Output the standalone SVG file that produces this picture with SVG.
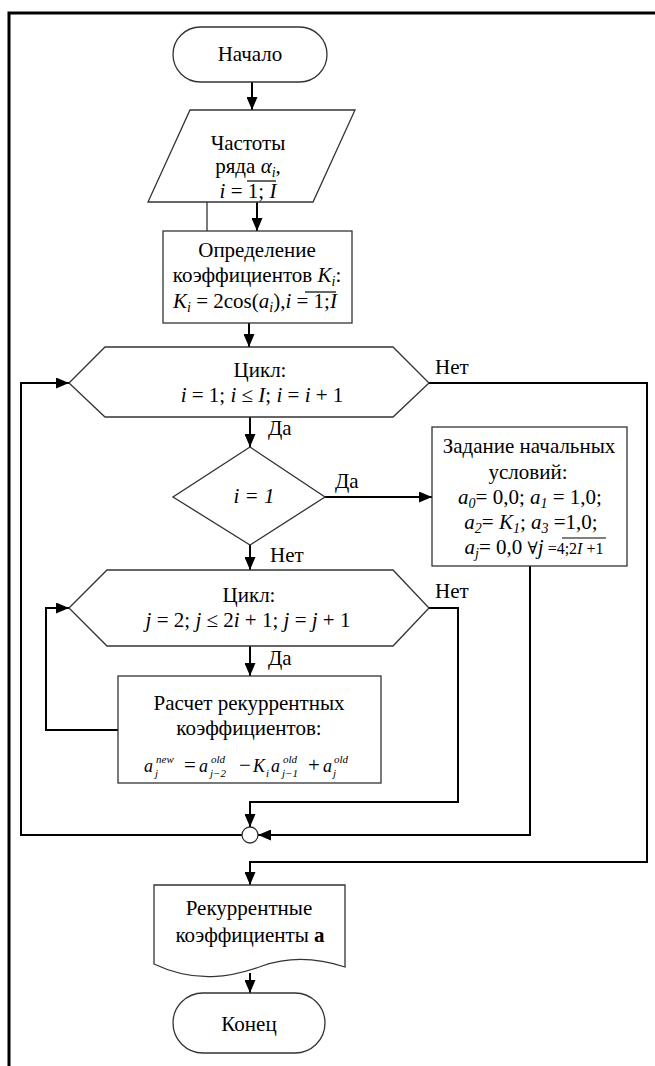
<svg xmlns="http://www.w3.org/2000/svg" width="655" height="1066" viewBox="0 0 655 1066">
<style>
text{font-family:"Liberation Serif","DejaVu Serif",serif;font-size:21px;fill:#000}
.m{text-anchor:middle}
.it{font-style:italic}
.sb{font-size:14px}
.f{font-size:18px;font-style:italic}
.fs{font-size:11px;font-style:italic}
.sh{fill:#fff;stroke:#333;stroke-width:1.3}
.cn{fill:none;stroke:#000;stroke-width:2}
.ol{stroke:#000;stroke-width:1.2}
</style>
<defs>
<marker id="ar" markerWidth="13" markerHeight="11" refX="13" refY="5.5" orient="auto" markerUnits="userSpaceOnUse"><path d="M0,0 L13,5.5 L0,11 z" fill="#000"/></marker>
</defs>
<g id="frame"><path d="M9,1066 V13 H655" fill="none" stroke="#000" stroke-width="3"/></g>
<g id="connectors">
<path class="cn" d="M252,82 V110" marker-end="url(#ar)"/>
<path d="M207,202 V231" stroke="#333" stroke-width="1.3"/>
<path class="cn" d="M257,202 V231" marker-end="url(#ar)"/>
<path class="cn" d="M249,323 V347" marker-end="url(#ar)"/>
<path class="cn" d="M250,417 V447" marker-end="url(#ar)"/>
<path class="cn" d="M325,497 H432" marker-end="url(#ar)"/>
<path class="cn" d="M250,545 V570" marker-end="url(#ar)"/>
<path class="cn" d="M250,646 V676" marker-end="url(#ar)"/>
<path class="cn" d="M118,730 H46 V608 H69" marker-end="url(#ar)"/>
<path class="cn" d="M429,608 H458 V802 H250 V827" marker-end="url(#ar)"/>
<path class="cn" d="M530,566 V835 H258" marker-end="url(#ar)"/>
<path class="cn" d="M242,835 H21 V383 H69" marker-end="url(#ar)"/>
<path class="cn" d="M429,383 H647 V862 H250 V885" marker-end="url(#ar)"/>
<path class="cn" d="M250,973 V993" marker-end="url(#ar)"/>
<text x="268" y="435">Да</text>
<text x="335" y="488">Да</text>
<text x="270" y="562">Нет</text>
<text x="268" y="665">Да</text>
<text x="435" y="374">Нет</text>
<text x="435" y="598">Нет</text>
</g>
<g id="start">
<rect class="sh" x="173" y="27" width="154" height="55" rx="27.5"/>
<text class="m" x="250" y="61">Начало</text>
</g>
<g id="input">
<polygon class="sh" points="190,110 355,110 313,202 148,202"/>
<text class="m" x="248" y="150">Частоты</text>
<text class="m" x="248" y="173">ряда <tspan class="it">α</tspan><tspan class="it sb" dy="4">i</tspan><tspan dy="-4">,</tspan></text>
<text class="m" x="248" y="198"><tspan class="it">i</tspan> = 1; <tspan class="it">I</tspan></text>
<line class="ol" x1="247" y1="181" x2="276" y2="181"/>
</g>
<g id="coef">
<rect class="sh" x="163" y="231" width="189" height="92"/>
<text class="m" x="257" y="257">Определение</text>
<text class="m" x="257" y="282">коэффициентов <tspan class="it">K</tspan><tspan class="it sb" dy="4">i</tspan><tspan dy="-4">:</tspan></text>
<text class="m" x="255" y="308" font-size="20"><tspan class="it">K</tspan><tspan class="it sb" dy="4">i</tspan><tspan dy="-4"> = 2cos(</tspan><tspan class="it">a</tspan><tspan class="it sb" dy="4">i</tspan><tspan dy="-4">),</tspan><tspan class="it">i</tspan> = 1;<tspan class="it">I</tspan></text>
<line class="ol" x1="305" y1="292" x2="336" y2="292"/>
</g>
<g id="loop-i">
<polygon class="sh" points="69,383 105,347 393,347 429,383 393,417 105,417"/>
<text class="m" x="260" y="377">Цикл:</text>
<text class="m" x="262" y="402"><tspan class="it">i</tspan> = 1; <tspan class="it">i</tspan> ≤ <tspan class="it">I</tspan>; <tspan class="it">i</tspan> = <tspan class="it">i</tspan> + 1</text>
</g>
<g id="cond">
<polygon class="sh" points="250,447 325,497 250,545 173,497"/>
<text class="m it" x="254" y="503">i = 1</text>
</g>
<g id="init">
<rect class="sh" x="432" y="427" width="195" height="139"/>
<text class="m" x="529" y="453">Задание начальных</text>
<text class="m" x="528" y="479">условий:</text>
<text class="m" x="530" y="504"><tspan class="it">a</tspan><tspan class="it sb" dy="4">0</tspan><tspan dy="-4">= 0,0; </tspan><tspan class="it">a</tspan><tspan class="it sb" dy="4">1</tspan><tspan dy="-4"> = 1,0;</tspan></text>
<text class="m" x="531" y="529"><tspan class="it">a</tspan><tspan class="it sb" dy="4">2</tspan><tspan dy="-4">= </tspan><tspan class="it">K</tspan><tspan class="it sb" dy="4">1</tspan><tspan dy="-4">; </tspan><tspan class="it">a</tspan><tspan class="it sb" dy="4">3</tspan><tspan dy="-4"> =1,0;</tspan></text>
<text class="m" x="534" y="554"><tspan class="it">a</tspan><tspan class="it sb" dy="4">j</tspan><tspan dy="-4">= 0,0 </tspan><tspan font-size="17">∀</tspan><tspan class="it">j</tspan><tspan font-size="16"> =4;2</tspan><tspan class="it" font-size="16">I</tspan><tspan font-size="16"> +1</tspan></text>
<line class="ol" x1="562" y1="538" x2="606" y2="538"/>
</g>
<g id="loop-j">
<polygon class="sh" points="69,608 107,570 393,570 429,608 393,646 107,646"/>
<text class="m" x="249" y="602">Цикл:</text>
<text class="m" x="248" y="627"><tspan class="it">j</tspan> = 2;  <tspan class="it">j</tspan> ≤ 2<tspan class="it">i</tspan> + 1; <tspan class="it">j</tspan> = <tspan class="it">j</tspan> + 1</text>
</g>
<g id="calc">
<rect class="sh" x="118" y="676" width="263" height="107"/>
<text class="m" x="249" y="710">Расчет рекуррентных</text>
<text class="m" x="249" y="735">коэффициентов:</text>
<text class="f" x="144" y="772">a</text>
<text class="fs" x="156" y="763">new</text>
<text class="fs" x="155" y="777">j</text>
<text x="184" y="772" font-size="18">=</text>
<text class="f" x="199" y="772">a</text>
<text class="fs" x="211" y="763">old</text>
<text class="fs" x="210" y="777">j−2</text>
<text x="239" y="772" font-size="18">−</text>
<text class="f" x="253" y="772">K</text>
<text class="fs" x="266" y="777">i</text>
<text class="f" x="271" y="772">a</text>
<text class="fs" x="283" y="763">old</text>
<text class="fs" x="282" y="777">j−1</text>
<text x="308" y="772" font-size="18">+</text>
<text class="f" x="323" y="772">a</text>
<text class="fs" x="334" y="763">old</text>
<text class="fs" x="333" y="777">j</text>
</g>
<g id="join">
<circle class="sh" cx="250" cy="835" r="8"/>
</g>
<g id="output">
<path class="sh" d="M154,885 H345 V967 C318,958 290,956 262,966 C232,977 196,984 154,964 Z"/>
<text class="m" x="249" y="915">Рекуррентные</text>
<text class="m" x="250" y="942">коэффициенты <tspan font-weight="bold">а</tspan></text>
</g>
<g id="end">
<rect class="sh" x="173" y="993" width="152" height="60" rx="30"/>
<text class="m" x="249" y="1031">Конец</text>
</g>
</svg>
